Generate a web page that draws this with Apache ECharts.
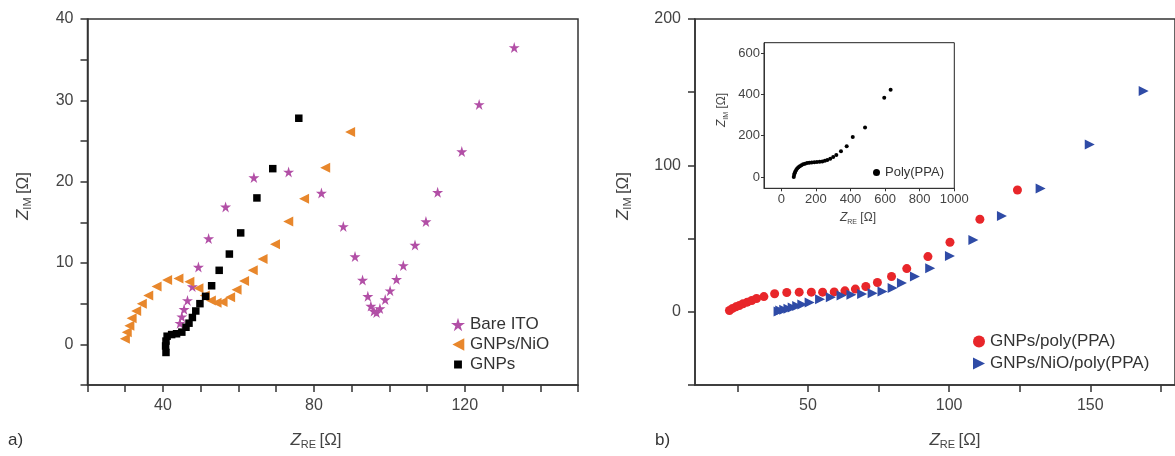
<!DOCTYPE html>
<html><head><meta charset="utf-8">
<script src="https://cdn.jsdelivr.net/npm/echarts@6/dist/echarts.min.js"></script>
<style>html,body{margin:0;padding:0;background:#fff}#c{width:1175px;height:456px}</style>
</head><body><div id="c"></div>
<script>
// ---- Panel a) data: [Z_RE, Z_IM] in ohm ----
const bareITO = [[44.5,2.6],[45.0,3.4],[45.6,4.3],[46.5,5.4],[47.8,7.1],[49.4,9.5],[52.1,13.0],[56.6,16.9],[64.1,20.5],[73.3,21.2],[82.0,18.6],[87.8,14.5],[90.9,10.8],[92.9,7.9],[94.3,5.9],[95.1,4.7],[95.9,4.1],[96.6,3.9],[97.5,4.4],[98.9,5.5],[100.2,6.6],[101.9,8.0],[103.7,9.7],[106.8,12.2],[109.7,15.1],[112.8,18.7],[119.2,23.7],[123.8,29.5],[133.1,36.5]];
const gnpsNiO = [[29.9,0.7],[30.4,1.5],[31.1,2.3],[31.7,3.2],[32.9,4.1],[34.4,5.0],[36.1,6.0],[38.3,7.1],[41.1,7.9],[44.1,8.1],[47.0,7.7],[49.4,6.9],[51.1,6.0],[52.7,5.4],[54.2,5.1],[55.8,5.2],[57.8,5.8],[59.5,6.7],[61.5,7.8],[63.8,9.1],[66.4,10.5],[69.7,12.3],[73.2,15.1],[77.4,17.9],[83.0,21.7],[89.6,26.1]];
const gnps = [[40.8,-1.0],[40.7,-0.2],[40.8,0.4],[41.1,1.0],[42.3,1.2],[43.6,1.3],[45.0,1.5],[46.1,2.1],[46.9,2.6],[47.8,3.3],[48.7,4.1],[49.8,5.0],[51.3,5.9],[52.9,7.2],[54.9,9.1],[57.6,11.1],[60.6,13.7],[64.9,18.0],[69.1,21.6],[76.0,27.8]];
// ---- Panel b) data ----
const gnpsPoly = [[22.2,0.9],[23.3,2.3],[24.5,3.4],[25.7,4.3],[27.0,5.5],[28.5,6.6],[30.1,7.7],[31.8,9.1],[34.4,10.4],[38.2,12.3],[42.5,13.2],[46.9,13.4],[51.2,13.4],[55.2,13.4],[59.3,13.6],[63.1,14.3],[66.8,15.5],[70.5,17.3],[74.6,20.0],[79.6,24.1],[85.0,29.5],[92.5,37.7],[100.3,47.5],[110.9,63.2],[124.2,83.2]];
const gnpsNiOPoly = [[39.6,0.2],[40.2,0.9],[41.6,1.4],[43.1,2.0],[44.6,2.9],[46.2,3.9],[48.0,5.0],[50.6,6.3],[54.3,8.6],[58.1,10.0],[61.9,11.1],[65.4,11.6],[69.2,12.1],[72.9,12.7],[76.4,13.8],[80.0,16.2],[83.3,19.6],[87.9,24.1],[93.3,29.8],[100.3,38.2],[108.6,49.1],[118.7,65.4],[132.4,84.3],[149.8,114.3],[168.9,150.9]];
// ---- Inset data ----
const polyPPA = [[72,0],[74,9],[77,18],[81,26],[86,34],[92,41],[99,47],[107,52],[116,57],[126,61],[137,64],[149,67],[162,69],[176,70],[191,71],[206,72],[222,73],[237,75],[252,78],[266,82],[283,88],[300,96],[318,106],[345,125],[378,149],[413,193],[484,240],[595,384],[632,422]];
// ---- ticks & labels ----
const aXTicks = [20,30,40,50,60,70,80,90,100,110,120,130,140,150];
const aXLabels = [40,80,120];
const aYTicks = [-5,0,5,10,15,20,25,30,35,40];
const aYLabels = [0,10,20,30,40];
const bXTicks = [25,50,75,100,125,150,175];
const bXLabels = [50,100,150];
const bYTicks = [-50,0,50,100,150,200];
const bYLabels = [0,100,200];
const inXLabels = [0,200,400,600,800,1000];
const inYLabels = [0,200,400,600];

const FONT = '"Liberation Sans", Arial, Helvetica, sans-serif';
const STAR = 'path://M50,0 L61,35 L98,35 L68,57 L79,91 L50,70 L21,91 L32,57 L2,35 L39,35 Z';
const TRI_L = 'path://M0,5 L10,0 L10,10 Z';
const TRI_R = 'path://M0,0 L10,5 L0,10 Z';
const SMALL_SQ = 'path://M2.2,2.2 L7.8,2.2 L7.8,7.8 L2.2,7.8 Z M0,0 L0.01,0 L0,0.01 Z M10,10 L9.99,10 L10,9.99 Z';
const SMALL_TRI_L = 'path://M1,5 L9.5,0.5 L9.5,9.5 Z M0,0 L0.01,0 L0,0.01 Z M10,10 L9.99,10 L10,9.99 Z';
const AX = '#333';

function axis(gridIndex, min, max, ticks, labels, o) {
  o = o || {};
  return {
    gridIndex, type:'value', min, max,
    axisLine:{show:true, onZero:false, lineStyle:{color:AX, width:o.lw||1.5}},
    axisTick:{show:true, customValues:ticks, length:o.tl||7, lineStyle:{color:AX, width:o.lw||1.5}},
    axisLabel:{customValues:labels, fontSize:o.fs||16, color:'#444', fontFamily:FONT, margin:o.m||13,
               formatter:function(v){ return String(v); }},
    splitLine:{show:false}
  };
}

function zTitle(sub, x, y, rot, fs) {
  const ss = Math.round(fs*0.62);
  return {
    type:'text', x, y, rotation: rot ? Math.PI/2 : 0,
    style:{
      text:'{i|Z}{s|' + sub + '} {n|[Ω]}',
      align:'center', verticalAlign:'middle',
      rich:{
        i:{fontStyle:'italic', fontSize:fs, fontFamily:FONT, fill:'#444', lineHeight:fs+3},
        s:{fontSize:ss, fontFamily:FONT, fill:'#444', verticalAlign:'bottom', lineHeight:ss},
        n:{fontSize:fs, fontFamily:FONT, fill:'#444', lineHeight:fs+3}
      }
    }
  };
}

const chart = echarts.init(document.getElementById('c'), null, {renderer:'canvas'});
chart.setOption({
  animation:false,
  backgroundColor:'#fff',
  grid:[
    {left:87.5, top:19, width:490.5, height:366, show:true, borderColor:AX, borderWidth:1.5},
    {left:695, top:19, width:488.6, height:366, show:true, borderColor:AX, borderWidth:1.5},
    {left:764, top:42.7, width:190.3, height:145.6, show:true, borderColor:'#222', borderWidth:1, backgroundColor:'#fff'}
  ],
  xAxis:[
    axis(0, 20, 150, aXTicks, aXLabels),
    axis(1, 10, 180, bXTicks, bXLabels),
    axis(2, -100, 1000, inXLabels, inXLabels, {fs:13, tl:3, lw:1, m:5})
  ],
  yAxis:[
    axis(0, -5, 40, aYTicks, aYLabels, {m:14}),
    axis(1, -50, 200, bYTicks, bYLabels, {m:14}),
    axis(2, -55, 650, inYLabels, inYLabels, {fs:13, tl:3, lw:1, m:4})
  ],
  legend:[
    {orient:'vertical', left:446, top:311, itemWidth:14, itemHeight:14, itemGap:3,
     data:['Bare ITO', {name:'GNPs/NiO', icon:SMALL_TRI_L}, {name:'GNPs', icon:SMALL_SQ}],
     textStyle:{fontSize:17, color:'#333', fontFamily:FONT}},
    {orient:'vertical', left:968, top:328, itemWidth:12, itemHeight:12, itemGap:5,
     data:['GNPs/poly(PPA)','GNPs/NiO/poly(PPA)'], textStyle:{fontSize:17, color:'#333', fontFamily:FONT}},
    {orient:'vertical', left:868, top:161, itemWidth:7, itemHeight:7, itemGap:2,
     data:['Poly(PPA)'], textStyle:{fontSize:13, color:'#333', fontFamily:FONT}}
  ],
  series:[
    {name:'Bare ITO', type:'scatter', xAxisIndex:0, yAxisIndex:0, data:bareITO, symbol:STAR, symbolSize:11, itemStyle:{color:'#b24fa6', opacity:1}},
    {name:'GNPs/NiO', type:'scatter', xAxisIndex:0, yAxisIndex:0, data:gnpsNiO, symbol:TRI_L, symbolSize:10, itemStyle:{color:'#e8872c', opacity:1}},
    {name:'GNPs', type:'scatter', xAxisIndex:0, yAxisIndex:0, data:gnps, symbol:'rect', symbolSize:7.5, itemStyle:{color:'#000', opacity:1}},
    {name:'GNPs/poly(PPA)', type:'scatter', xAxisIndex:1, yAxisIndex:1, data:gnpsPoly, symbol:'circle', symbolSize:9, itemStyle:{color:'#e8262a', opacity:1}},
    {name:'GNPs/NiO/poly(PPA)', type:'scatter', xAxisIndex:1, yAxisIndex:1, data:gnpsNiOPoly, symbol:TRI_R, symbolSize:10, itemStyle:{color:'#2f4ba6', opacity:1}},
    {name:'Poly(PPA)', type:'scatter', xAxisIndex:2, yAxisIndex:2, data:polyPPA, symbol:'circle', symbolSize:4, itemStyle:{color:'#000', opacity:1}}
  ],
  graphic:[
    zTitle('IM', 23, 196, true, 17),
    zTitle('RE', 316, 440, false, 17),
    zTitle('IM', 623, 196, true, 17),
    zTitle('RE', 955, 440, false, 17),
    zTitle('IM', 722, 110, true, 12),
    zTitle('RE', 858, 218, false, 12),
    {type:'text', x:8, y:440, style:{text:'a)', fontSize:17, fontFamily:FONT, fill:'#333', verticalAlign:'middle'}},
    {type:'text', x:655, y:440, style:{text:'b)', fontSize:17, fontFamily:FONT, fill:'#333', verticalAlign:'middle'}}
  ]
});
</script>
</body></html>
